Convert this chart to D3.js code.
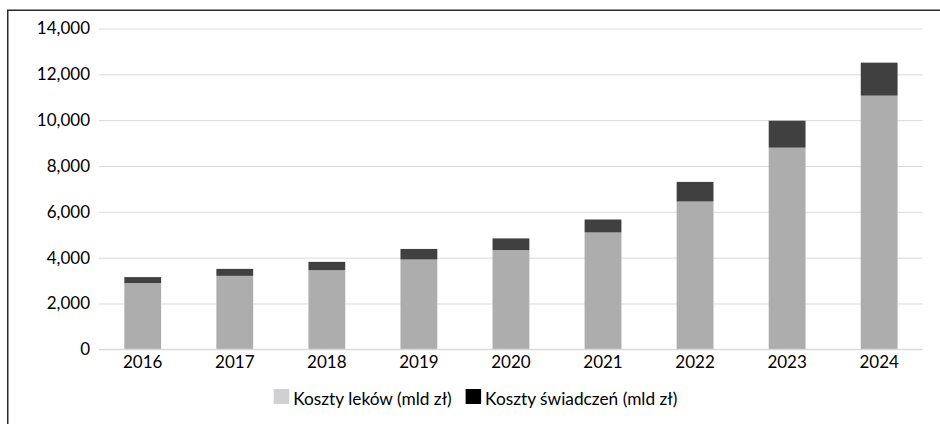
<!DOCTYPE html>
<html>
<head>
<meta charset="utf-8">
<script src="https://cdn.jsdelivr.net/npm/d3@7"></script>
<style>
  html, body { margin: 0; padding: 0; background: #fff; }
  svg { display: block; }
  text { font-family: Lato, "Open Sans", sans-serif; fill: #000; }
</style>
</head>
<body>
<svg id="chart" width="940" height="424"></svg>
<script>
const years = ["2016","2017","2018","2019","2020","2021","2022","2023","2024"];
const kosztyLekow = [2890, 3205, 3455, 3920, 4330, 5100, 6450, 8800, 11070];
const kosztySwiadczen = [260, 305, 360, 460, 510, 565, 855, 1175, 1440];
const yTicks = [0, 2000, 4000, 6000, 8000, 10000, 12000, 14000];
const seriesNames = ["Koszty leków (mld zł)", "Koszty świadczeń (mld zł)"];
const barColors = ["#adadad", "#404040"];
const legendColors = ["#d0d0d2", "#000000"];

const svg = d3.select("#chart");

// frame
svg.append("rect")
  .attr("x", 7.75).attr("y", 10.25)
  .attr("width", 960).attr("height", 440)
  .attr("fill", "none").attr("stroke", "#2a2a2a").attr("stroke-width", 1.5);

const x = d3.scaleBand().domain(years).range([96.7, 925.2]).paddingInner(0.6).paddingOuter(0.3);
const y = d3.scaleLinear().domain([0, 14000]).range([349.3, 28.5]);

// gridlines
const grid = svg.append("g").attr("transform", "translate(99,0)")
  .call(d3.axisLeft(y).tickValues(yTicks).tickSize(-(922.7 - 99)).tickFormat(""));
grid.select(".domain").remove();
grid.selectAll(".tick line").attr("stroke", "#d9d9d9").attr("stroke-width", 1);

// y labels
const yAxis = svg.append("g").attr("transform", "translate(90,0)")
  .call(d3.axisLeft(y).tickValues(yTicks).tickSize(0).tickPadding(0).tickFormat(d3.format(",")));
yAxis.select(".domain").remove();
yAxis.selectAll("text").attr("font-size", 17).attr("font-family", "Lato").attr("fill", "#000");

// stacked bars
const stackData = years.map((yr, i) => ({ year: yr, lek: kosztyLekow[i], sw: kosztySwiadczen[i] }));
const stack = d3.stack().keys(["lek", "sw"])(stackData);
svg.append("g").selectAll("g").data(stack).join("g")
  .attr("fill", (d, i) => barColors[i])
  .selectAll("rect").data(d => d).join("rect")
  .attr("x", d => x(d.data.year))
  .attr("width", x.bandwidth())
  .attr("y", d => y(d[1]))
  .attr("height", d => y(d[0]) - y(d[1]));

// zero line on top
svg.append("line")
  .attr("x1", 99).attr("x2", 922.7)
  .attr("y1", y(0)).attr("y2", y(0))
  .attr("stroke", "#d9d9d9").attr("stroke-width", 1);

// x labels
const xAxis = svg.append("g").attr("transform", "translate(0,356)")
  .call(d3.axisBottom(x).tickSize(0).tickPadding(0));
xAxis.select(".domain").remove();
xAxis.selectAll("text").attr("font-size", 17).attr("font-family", "Lato").attr("fill", "#000");

// legend
const legend = svg.append("g");
let cx = 0;
seriesNames.forEach((name, i) => {
  const g = legend.append("g");
  g.append("rect").attr("x", 0).attr("y", -15.5).attr("width", 15.5).attr("height", 15).attr("fill", legendColors[i]);
  const t = g.append("text").attr("x", 19.5).attr("y", 0).attr("font-size", 17.3).text(name);
  const w = t.node().getComputedTextLength();
  g.attr("transform", `translate(${cx},0)`);
  cx += 19.5 + w + 14;
});
const totalW = cx - 14;
legend.attr("transform", `translate(${475.5 - totalW / 2},404.5)`);
</script>
</body>
</html>
